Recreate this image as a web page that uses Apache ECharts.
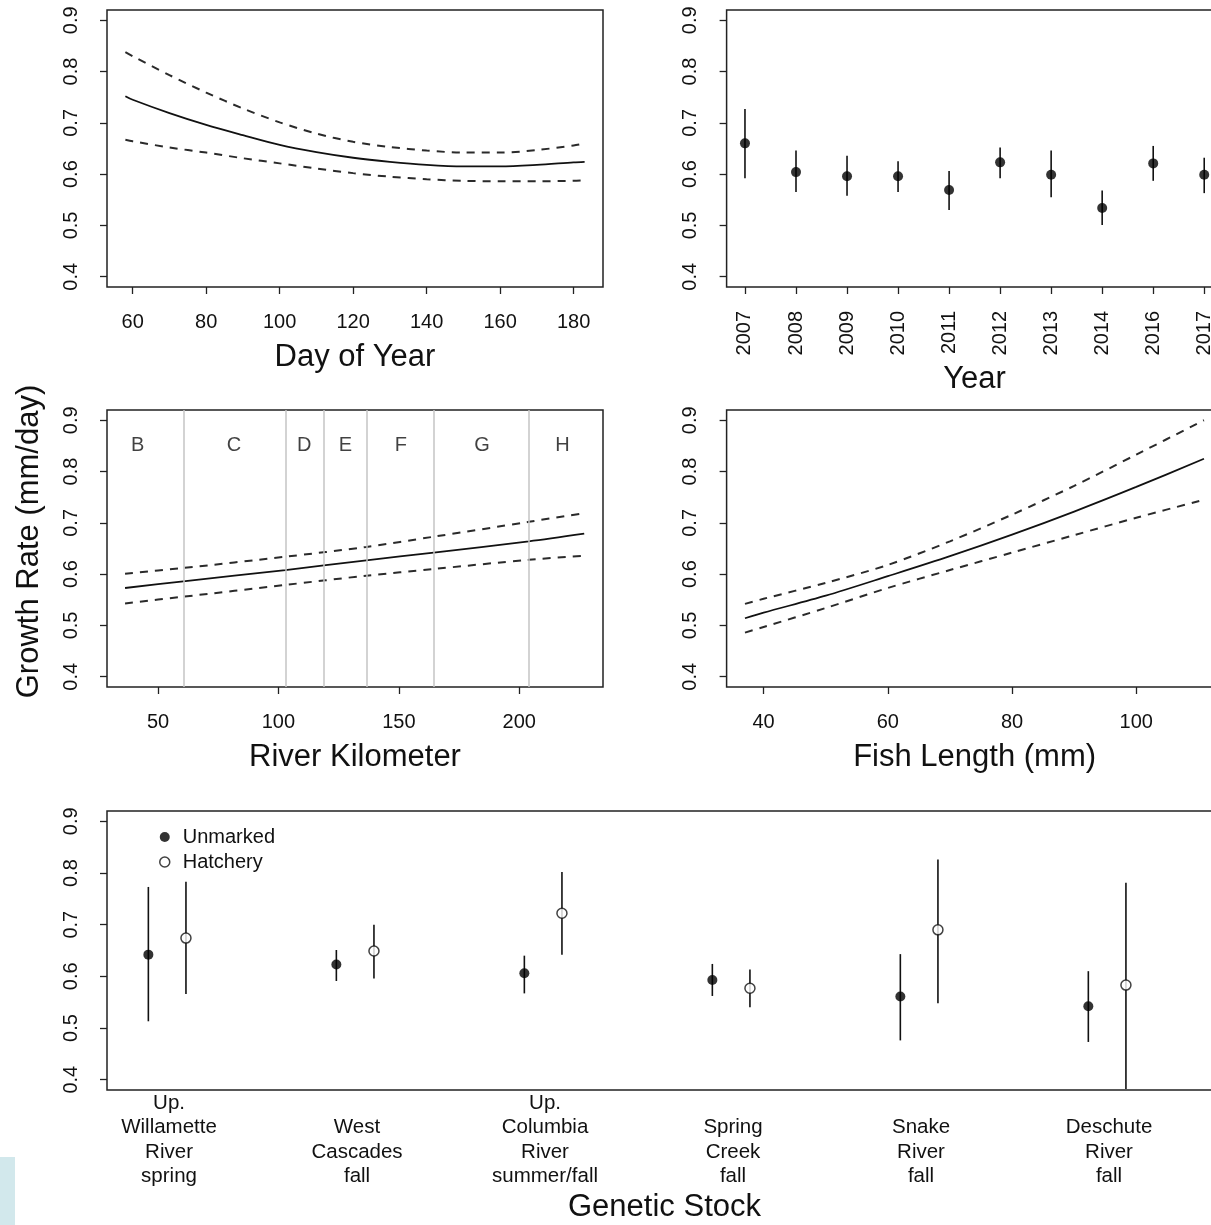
<!DOCTYPE html>
<html>
<head>
<meta charset="utf-8">
<script src="https://cdn.jsdelivr.net/npm/echarts@6/dist/echarts.min.js"></script>
<style>
html,body{margin:0;padding:0;background:#fff;}
#chart{width:1211px;height:1225px;}
</style>
</head>
<body>
<div id="chart"></div>
<script>
// ---------- data ----------
const yTicks = [0.4, 0.5, 0.6, 0.7, 0.8, 0.9];

// Panel 1: Day of Year
const doyX     = [58, 60, 70, 80, 90, 100, 110, 120, 130, 140, 150, 160, 170, 180, 183];
const doyFit   = [0.752, 0.745, 0.719, 0.696, 0.676, 0.657, 0.643, 0.632, 0.624, 0.618, 0.615, 0.615, 0.618, 0.623, 0.624];
const doyUpper = [0.838, 0.830, 0.793, 0.759, 0.728, 0.701, 0.679, 0.663, 0.653, 0.646, 0.642, 0.642, 0.647, 0.656, 0.660];
const doyLower = [0.667, 0.664, 0.652, 0.642, 0.631, 0.621, 0.611, 0.602, 0.595, 0.590, 0.587, 0.586, 0.586, 0.587, 0.588];
const doyTicks = [60, 80, 100, 120, 140, 160, 180];

// Panel 2: Year
const years    = ['2007', '2008', '2009', '2010', '2011', '2012', '2013', '2014', '2016', '2017'];
const yearMean = [0.660, 0.604, 0.596, 0.596, 0.569, 0.623, 0.599, 0.534, 0.621, 0.599];
const yearLo   = [0.592, 0.565, 0.558, 0.565, 0.530, 0.592, 0.555, 0.501, 0.587, 0.563];
const yearHi   = [0.727, 0.646, 0.636, 0.625, 0.606, 0.652, 0.646, 0.568, 0.655, 0.632];

// Panel 3: River Kilometer
const rkmX      = [36.3, 60.5, 102.9, 136.5, 164.5, 204.0, 227.0];
const rkmFit    = [0.573, 0.586, 0.608, 0.627, 0.642, 0.664, 0.679];
const rkmUpper  = [0.601, 0.612, 0.634, 0.653, 0.673, 0.702, 0.719];
const rkmLower  = [0.543, 0.556, 0.579, 0.597, 0.610, 0.628, 0.636];
const rkmTicks = [50, 100, 150, 200];
const zoneNames   = ['B', 'C', 'D', 'E', 'F', 'G', 'H'];
const zoneLabelKm = [41.5, 81.5, 110.7, 127.8, 150.8, 184.6, 218];
const zoneLabelY  = 0.85;
const zoneBreaks  = [60.5, 102.9, 118.8, 136.5, 164.5, 204.0];

// Panel 4: Fish Length
const lenX     = [37, 40, 50, 60, 70, 80, 90, 100, 110.9];
const lenFit   = [0.514, 0.525, 0.558, 0.596, 0.635, 0.677, 0.722, 0.770, 0.825];
const lenUpper = [0.542, 0.552, 0.583, 0.618, 0.664, 0.716, 0.772, 0.833, 0.900];
const lenLower = [0.486, 0.497, 0.534, 0.573, 0.608, 0.642, 0.676, 0.710, 0.745];
const lenTicks = [40, 60, 80, 100];

// Panel 5: Genetic Stock
const stocks = ['Up.\nWillamette\nRiver\nspring', 'West\nCascades\nfall', 'Up.\nColumbia\nRiver\nsummer/fall',
                'Spring\nCreek\nfall', 'Snake\nRiver\nfall', 'Deschute\nRiver\nfall'];
const unmarkedMean = [0.642, 0.623, 0.606, 0.593, 0.561, 0.542];
const unmarkedLo   = [0.513, 0.591, 0.567, 0.562, 0.476, 0.473];
const unmarkedHi   = [0.773, 0.651, 0.640, 0.624, 0.643, 0.610];
const hatcheryMean = [0.674, 0.649, 0.722, 0.577, 0.690, 0.583];
const hatcheryLo   = [0.566, 0.596, 0.642, 0.540, 0.548, 0.382];
const hatcheryHi   = [0.783, 0.700, 0.802, 0.613, 0.826, 0.781];
const unmarkedShift = -0.11;
const hatcheryShift = 0.09;

// ---------- helpers ----------
const FONT = "'Liberation Sans', Arial, sans-serif";
const TXT = '#111';
const TITLE_SIZE = 31;
const pair = (xs, ys) => xs.map((x, i) => [x, ys[i]]);

function grid(left, top, width, height) {
  return { left, top, width, height, show: true, borderColor: '#222', borderWidth: 1.5,
           backgroundColor: 'transparent', containLabel: false, outerBoundsMode: 'none' };
}
function yAx(gi, name) {
  const ax = {
    type: 'value', gridIndex: gi, min: 0.38, max: 0.92,
    axisLine: { show: false }, splitLine: { show: false },
    axisTick: { show: true, inside: false, length: 7, customValues: yTicks, lineStyle: { color: '#222', width: 1.3 } },
    axisLabel: { customValues: yTicks, rotate: 90, margin: 26, fontSize: 20, color: TXT, fontFamily: FONT,
                 formatter: v => Number(v).toFixed(1) }
  };
  if (name) {
    ax.name = name; ax.nameLocation = 'middle'; ax.nameGap = 62;
    ax.nameTextStyle = { fontSize: TITLE_SIZE, color: TXT, fontFamily: FONT, padding: [0, 0, 0, 14] };
  }
  return ax;
}
function xAx(gi, min, max, ticks, name, nameGap, labelOpts, tickShow) {
  return {
    type: 'value', gridIndex: gi, min, max,
    axisLine: { show: false }, splitLine: { show: false },
    axisTick: { show: tickShow !== false, inside: false, length: 7, customValues: ticks, lineStyle: { color: '#222', width: 1.3 } },
    axisLabel: Object.assign({ customValues: ticks, margin: 25, fontSize: 20, color: TXT, fontFamily: FONT }, labelOpts || {}),
    name, nameLocation: 'middle', nameGap,
    nameTextStyle: { fontSize: TITLE_SIZE, color: TXT, fontFamily: FONT }
  };
}
function lineS(gi, xs, ys, dashed) {
  return {
    type: 'line', xAxisIndex: gi, yAxisIndex: gi, data: pair(xs, ys), smooth: 0.3,
    showSymbol: false, symbol: 'none', silent: true, animation: false,
    lineStyle: dashed ? { color: '#2a2a2a', width: 2, type: [8, 7] } : { color: '#111', width: 1.8 }
  };
}
function errBars(gi, xs, lo, hi) {
  return {
    type: 'custom', xAxisIndex: gi, yAxisIndex: gi, animation: false, silent: true,
    data: xs.map((x, i) => [x, lo[i], hi[i]]),
    encode: { x: 0, y: [1, 2] },
    renderItem: (params, api) => {
      const p1 = api.coord([api.value(0), api.value(1)]);
      const p2 = api.coord([api.value(0), api.value(2)]);
      return { type: 'line', shape: { x1: p1[0], y1: p1[1], x2: p2[0], y2: p2[1] },
               style: { stroke: '#111', lineWidth: 1.6 } };
    }
  };
}

const yearIdx = years.map((_, i) => i + 1);
const stockIdx = stocks.map((_, i) => i + 1);
const unmarkedX = stockIdx.map(v => v + unmarkedShift);
const hatcheryX = stockIdx.map(v => v + hatcheryShift);

const option = {
  animation: false,
  backgroundColor: '#fff',
  textStyle: { fontFamily: FONT },
  grid: [
    grid(107, 10, 496, 277),
    grid(726.6, 10, 496, 277),
    grid(107, 410, 496, 277),
    grid(726.6, 410, 496, 277),
    grid(107, 811, 1115, 279)
  ],
  xAxis: [
    xAx(0, 53, 188, doyTicks, 'Day of Year', 55),
    xAx(1, 0.64, 10.36, yearIdx, 'Year', 77,
        { rotate: 90, margin: 24, formatter: v => years[Math.round(v) - 1] || '' }),
    xAx(2, 28.8, 234.8, rkmTicks, 'River Kilometer', 55),
    xAx(3, 34.04, 113.9, lenTicks, 'Fish Length (mm)', 55),
    xAx(4, 0.67, 6.601, stockIdx, 'Genetic Stock', 102,
        { verticalAlign: 'bottom', margin: 99, lineHeight: 24.6, align: 'center', fontSize: 20.5,
          formatter: v => stocks[Math.round(v) - 1] || '' }, false)
  ],
  yAxis: [yAx(0), yAx(1), yAx(2, 'Growth Rate (mm/day)'), yAx(3), yAx(4)],
  legend: {
    orient: 'vertical', left: 154, top: 822, itemGap: 5, itemWidth: 26, itemHeight: 10,
    textStyle: { fontSize: 20, color: TXT, fontFamily: FONT },
    data: [
      { name: 'Unmarked', icon: 'circle', itemStyle: { color: '#000', borderWidth: 0 } },
      { name: 'Hatchery', icon: 'circle', itemStyle: { color: '#fff', borderColor: '#111', borderWidth: 1.5 } }
    ],
    selectedMode: false
  },
  graphic: [
    { type: 'rect', left: 0, top: 1157, shape: { width: 15, height: 68 }, style: { fill: '#d2e8ec' }, silent: true }
  ],
  series: [
    // Panel 1
    lineS(0, doyX, doyFit, false),
    lineS(0, doyX, doyUpper, true),
    lineS(0, doyX, doyLower, true),
    // Panel 2
    errBars(1, yearIdx, yearLo, yearHi),
    { type: 'scatter', xAxisIndex: 1, yAxisIndex: 1, data: pair(yearIdx, yearMean), symbol: 'circle', symbolSize: 10,
      itemStyle: { color: '#000' }, silent: true, z: 5 },
    // Panel 3
    { type: 'line', xAxisIndex: 2, yAxisIndex: 2, data: [], silent: true,
      markLine: { symbol: 'none', silent: true, label: { show: false },
                  lineStyle: { color: '#c4c4c4', width: 1.5, type: 'solid' },
                  data: zoneBreaks.map(v => ({ xAxis: v })) } },
    { type: 'scatter', xAxisIndex: 2, yAxisIndex: 2, symbolSize: 0, silent: true,
      data: zoneLabelKm.map((x, i) => ({ value: [x, zoneLabelY], name: zoneNames[i] })),
      label: { show: true, position: 'inside', formatter: p => p.name, fontSize: 20, color: TXT, fontFamily: FONT } },
    lineS(2, rkmX, rkmFit, false),
    lineS(2, rkmX, rkmUpper, true),
    lineS(2, rkmX, rkmLower, true),
    // Panel 4
    lineS(3, lenX, lenFit, false),
    lineS(3, lenX, lenUpper, true),
    lineS(3, lenX, lenLower, true),
    // Panel 5
    errBars(4, unmarkedX, unmarkedLo, unmarkedHi),
    errBars(4, hatcheryX, hatcheryLo, hatcheryHi),
    { name: 'Unmarked', type: 'scatter', xAxisIndex: 4, yAxisIndex: 4, data: pair(unmarkedX, unmarkedMean),
      symbol: 'circle', symbolSize: 10, itemStyle: { color: '#000' }, z: 5, silent: true },
    { name: 'Hatchery', type: 'scatter', xAxisIndex: 4, yAxisIndex: 4, data: pair(hatcheryX, hatcheryMean),
      symbol: 'circle', symbolSize: 10, itemStyle: { color: '#fff', borderColor: '#111', borderWidth: 1.5 }, z: 5, silent: true }
  ]
};

const chart = echarts.init(document.getElementById('chart'), null, { renderer: 'canvas' });
chart.setOption(option);
</script>
</body>
</html>
